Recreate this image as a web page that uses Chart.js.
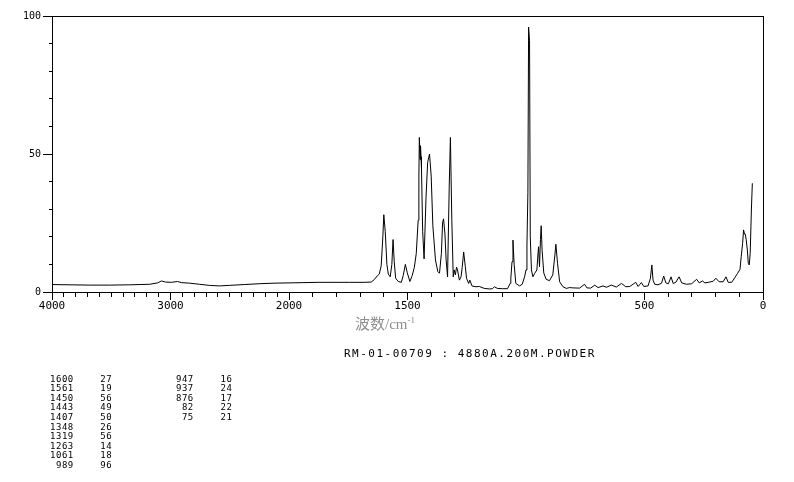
<!DOCTYPE html>
<html>
<head>
<meta charset="utf-8">
<script src="https://cdn.jsdelivr.net/npm/chart.js@4"></script>
<style>
  body { margin: 0; background: #fff; }
  #wrap { position: relative; width: 794px; height: 482px; background: #fff; }
  #c { position: absolute; left: 0; top: 0; }
  #xtitle { position: absolute; left: 355px; top: 312px; font: 15px "Liberation Serif", "Noto Sans CJK SC", serif; color: #8e8e8e; white-space: nowrap; }
  #xtitle sup { font-size: 9px; vertical-align: 6px; }
  #sample { position: absolute; left: 344px; top: 347.5px; font: 11px "DejaVu Sans Mono", monospace; line-height: 12px; letter-spacing: 1.5px; white-space: nowrap; color: #000; }
  .cell { position: absolute; font: 9px "DejaVu Sans Mono", monospace; line-height: 9.56px; letter-spacing: 0.5px; text-align: right; color: #000; }
</style>
</head>
<body>
<div id="wrap">
  <canvas id="c" width="794" height="482"></canvas>
  <div id="xtitle">波数/cm<sup>-1</sup></div>
  <div id="sample">RM-01-00709 : 4880A.200M.POWDER</div>
</div>
<script>
// spectrum (wavenumber in cm-1, intensity)
const wavenumbers = [4000, 3849, 3681, 3513, 3345, 3176, 3109, 3076, 3042, 2992, 2941, 2908, 2840, 2756, 2672, 2588, 2504, 2378, 2252, 2126,
  2000, 1937, 1873, 1810, 1746, 1683, 1653, 1640, 1628, 1619, 1611, 1604, 1600, 1594, 1587, 1581, 1573, 1566, 1561, 1556,
  1550, 1539, 1526, 1518, 1509, 1501, 1490, 1480, 1471, 1463, 1455, 1452, 1450, 1447, 1445, 1443, 1441, 1436, 1430, 1422,
  1415, 1407, 1400, 1393, 1382, 1372, 1365, 1357, 1352, 1348, 1342, 1337, 1331, 1324, 1319, 1313, 1307, 1303, 1298, 1293,
  1289, 1281, 1274, 1269, 1263, 1256, 1251, 1242, 1237, 1228, 1211, 1197, 1176, 1154, 1142, 1133, 1121, 1099, 1078, 1067,
  1064, 1059, 1055, 1050, 1043, 1027, 1016, 1006, 1000, 996, 992, 989, 985, 982, 977, 971, 963, 954, 951, 947,
  943, 939, 936, 932, 925, 915, 901, 887, 878, 874, 867, 858, 844, 830, 816, 803, 774, 753, 743, 727,
  710, 696, 675, 661, 640, 619, 597, 579, 562, 537, 527, 513, 503, 485, 475, 469, 464, 457, 443, 428,
  419, 410, 399, 388, 379, 368, 354, 343, 323, 301, 280, 269, 255, 245, 231, 210, 199, 185, 168, 156,
  147, 132, 118, 107, 97, 92, 86, 82, 78, 75, 71, 66, 62, 58, 54, 49, 45];
const intensities = [2.7, 2.6, 2.5, 2.5, 2.6, 2.8, 3.3, 4.0, 3.6, 3.5, 3.8, 3.4, 3.2, 2.8, 2.4, 2.2, 2.4, 2.7, 3.0, 3.2,
  3.3, 3.4, 3.5, 3.5, 3.5, 3.5, 3.6, 4.5, 5.8, 6.5, 9.5, 20, 28, 22, 10, 6.5, 5.5, 10, 19, 11,
  5, 3.8, 3.5, 6, 10, 7, 3.8, 6, 9, 14, 26, 42, 56, 48, 53, 49, 45, 22, 12, 34,
  47, 50, 42, 24, 11.6, 7.4, 6.8, 14, 25, 26.5, 21, 11.6, 5.5, 38, 56, 26, 5.5, 8, 6.2, 9,
  8, 4.3, 5.5, 9, 14.5, 9.2, 5, 3.1, 4.3, 2.2, 1.9, 2.0, 1.3, 1.1, 1.2, 1.9, 1.3, 1.2, 1.2, 3.1,
  5, 11, 18.8, 10, 3.1, 2.2, 2.8, 5.5, 8, 17, 36, 96, 91, 20, 8, 5.5, 6.8, 8, 12, 16.4,
  9.2, 19, 24, 15, 6.9, 4.6, 4.1, 6.2, 13.4, 17.3, 10.4, 3.7, 1.9, 1.3, 1.6, 1.5, 1.4, 2.8, 1.5, 1.4,
  2.5, 1.6, 2.2, 1.7, 2.5, 1.8, 3.1, 1.9, 2.0, 3.5, 2.0, 3.4, 2.0, 2.2, 5, 9.8, 4.3, 2.8, 2.6, 3.2,
  5.8, 3.3, 3.0, 5.5, 3.1, 3.5, 5.5, 3.3, 2.8, 3.0, 4.6, 3.3, 4.0, 3.3, 3.5, 3.9, 5, 3.7, 3.7, 5.5,
  3.5, 3.5, 5.3, 6.8, 8.2, 12.8, 17.6, 22.5, 21, 21, 19, 15.2, 10.4, 9.8, 14, 29.7, 39.4];

// peak list printed under the chart
const peakWn = [1600, 1561, 1450, 1443, 1407, 1348, 1319, 1263, 1061, 989, 947, 937, 876, 82, 75];
const peakInt = [27, 19, 56, 49, 50, 26, 56, 14, 18, 96, 16, 24, 17, 22, 21];

// tick labels (minor ticks every 100 cm-1 and every 10 units)
const xMajor = [4000, 3000, 2000, 1500, 500, 0];
const yMajor = [0, 50, 100];

// axis is compressed 2:1 above 2000 cm-1
function toAxis(w) { return w <= 2000 ? w : 2000 + (w - 2000) / 2; }
function fromAxis(u) { return u <= 2000 ? u : 2000 + (u - 2000) * 2; }

const xTicks = [];
for (let w = 0; w <= 4000; w += 100) xTicks.push(w);
const yTicks = [];
for (let v = 0; v <= 100; v += 10) yTicks.push(v);

const isXMajor = u => xMajor.includes(Math.round(fromAxis(u)));
const isYMajor = v => yMajor.includes(v);

Chart.defaults.font.family = "'DejaVu Sans Mono', monospace";
Chart.defaults.color = '#000';

new Chart(document.getElementById('c'), {
  type: 'line',
  data: {
    datasets: [{
      data: wavenumbers.map((w, i) => ({ x: toAxis(w), y: intensities[i] })),
      borderColor: '#000',
      borderWidth: 1,
      pointRadius: 0,
      tension: 0,
      fill: false
    }]
  },
  options: {
    responsive: false,
    animation: false,
    layout: { padding: { left: 0, top: 16, right: 31, bottom: 0 } },
    plugins: { legend: { display: false }, tooltip: { enabled: false } },
    scales: {
      x: {
        type: 'linear', position: 'bottom', min: 0, max: 3000, reverse: true,
        afterBuildTicks: s => { s.ticks = xTicks.map(w => ({ value: toAxis(w) })); },
        afterFit: s => { s.height = 190; },
        ticks: { autoSkip: false, maxRotation: 0, padding: 0, font: { size: 11 },
          callback: v => isXMajor(v) ? String(Math.round(fromAxis(v))) : '' },
        grid: {
          drawOnChartArea: false, tickLength: 8, tickColor: '#000',
          // minor ticks: only the first 4px of the mark is drawn
          tickBorderDash: c => isXMajor(c.tick.value) ? [] : [4, 20],
          tickBorderDashOffset: 0
        },
        border: { display: true, color: '#000', width: 1 }
      },
      xTop: {
        type: 'linear', position: 'top', min: 0, max: 1,
        afterFit: s => { s.height = 0; },
        ticks: { display: false }, grid: { display: false },
        border: { display: true, color: '#000', width: 1 }
      },
      y: {
        type: 'linear', position: 'left', min: 0, max: 100,
        afterBuildTicks: s => { s.ticks = yTicks.map(v => ({ value: v })); },
        afterFit: s => { s.width = 52; },
        ticks: { padding: 2, font: { size: 10 }, callback: v => isYMajor(v) ? String(v) : '' },
        grid: {
          drawOnChartArea: false, tickLength: 9, tickColor: '#000',
          // minor ticks: only the 3px next to the axis is drawn
          tickBorderDash: c => isYMajor(c.tick.value) ? [] : [3, 6],
          tickBorderDashOffset: c => isYMajor(c.tick.value) ? 0 : 3
        },
        border: { display: true, color: '#000', width: 1 }
      },
      yRight: {
        type: 'linear', position: 'right', min: 0, max: 1,
        afterFit: s => { s.width = 0; },
        ticks: { display: false }, grid: { display: false },
        border: { display: true, color: '#000', width: 1 }
      }
    }
  }
});

// peak table: 10 rows per column group
const wrap = document.getElementById('wrap');
function cell(text, right, top, width) {
  const d = document.createElement('div');
  d.className = 'cell';
  d.textContent = text;
  d.style.left = (right - width) + 'px';
  d.style.width = width + 'px';
  d.style.top = top + 'px';
  wrap.appendChild(d);
}
peakWn.forEach((w, i) => {
  const group = Math.floor(i / 10);
  const row = i % 10;
  const top = 374.7 + row * 9.56;
  const wnRight = group === 0 ? 73.8 : 193.8;
  const intRight = group === 0 ? 112.2 : 232.4;
  cell(String(w), wnRight, top, 40);
  cell(String(peakInt[i]), intRight, top, 30);
});
</script>
</body>
</html>
